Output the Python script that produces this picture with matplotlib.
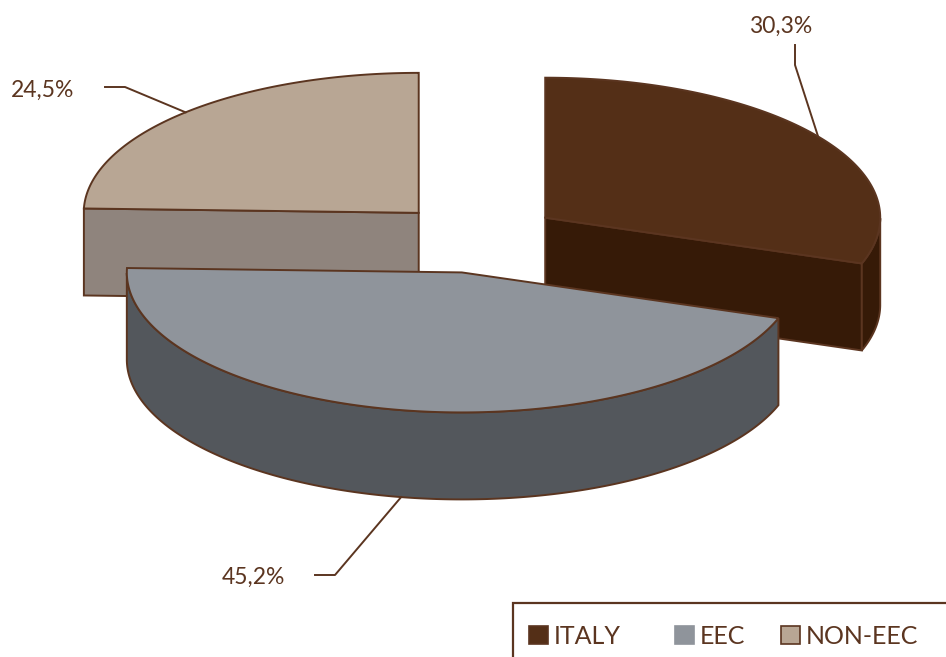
import numpy as np
import matplotlib.pyplot as plt
from matplotlib.patches import Polygon, Rectangle

plt.rcParams['font.family'] = ['Lato', 'DejaVu Sans']

# Data
categories = ['ITALY', 'EEC', 'NON-EEC']
shares = [30.3, 45.2, 24.5]
labels = ['30,3%', '45,2%', '24,5%']

# Colours: top face / side face
top_colors = ['#542f17', '#8f949b', '#b8a694']
side_colors = ['#361a07', '#53575c', '#8f847d']
edge_col = '#5b3520'
text_col = '#5b3520'

# Pie geometry (pixel space)
CX, CY = 477, 238
RX, RY = 335, 140
DEPTH = 87
EXPLODE = 0.25

# label layout: text centre, elbow start, elbow end
label_pos = [(781, 26), (253, 577), (43, 90)]
leader_a = [(795, 45), (315, 575), (105, 87)]
leader_b = [(795, 65), (335, 575), (125, 87)]


def pt(cx, cy, th, z=0.0):
    return cx + RX * np.cos(th), cy - RY * np.sin(th) + z


fig = plt.figure(figsize=(9.46, 6.57), dpi=100)
ax = fig.add_axes([0, 0, 1, 1])
ax.set_xlim(0, 946)
ax.set_ylim(657, 0)
ax.axis('off')

# build slices clockwise from 12 o'clock
slices = []
start = 90.0
for i, v in enumerate(shares):
    span = v / sum(shares) * 360
    th2 = np.radians(start)
    th1 = np.radians(start - span)
    mid = (th1 + th2) / 2
    cx = CX + EXPLODE * RX * np.cos(mid)
    cy = CY - EXPLODE * RY * np.sin(mid)
    slices.append(dict(i=i, th1=th1, th2=th2, mid=mid, cx=cx, cy=cy))
    start -= span

lw = 1.4
for s in sorted(slices, key=lambda d: d['cy']):
    i, th1, th2, cx, cy = s['i'], s['th1'], s['th2'], s['cx'], s['cy']
    # radial cut faces
    for th, vis in ((th1, np.cos(th1) > 1e-6), (th2, np.cos(th2) < -1e-6)):
        if vis:
            px, py = pt(cx, cy, th)
            poly = [(cx, cy), (px, py), (px, py + DEPTH), (cx, cy + DEPTH)]
            ax.add_patch(Polygon(poly, closed=True, fc=side_colors[i],
                                 ec=edge_col, lw=lw, zorder=2))
    # outer wall (front half only)
    ths = np.linspace(th1, th2, 400)
    front = np.sin(ths) <= 0
    runs = []
    cur = []
    for t, f in zip(ths, front):
        if f:
            cur.append(t)
        elif cur:
            runs.append(cur)
            cur = []
    if cur:
        runs.append(cur)
    for run in runs:
        if len(run) < 2:
            continue
        run = np.array(run)
        xs, ys = pt(cx, cy, run)
        poly = list(zip(xs, ys)) + list(zip(xs[::-1], ys[::-1] + DEPTH))
        ax.add_patch(Polygon(poly, closed=True, fc=side_colors[i],
                             ec=edge_col, lw=lw, zorder=2))
    # top face
    xs, ys = pt(cx, cy, ths)
    poly = [(cx, cy)] + list(zip(xs, ys))
    ax.add_patch(Polygon(poly, closed=True, fc=top_colors[i],
                         ec=edge_col, lw=lw, zorder=2))

# leaders and labels
for s in slices:
    i, mid = s['i'], s['mid']
    z = DEPTH if np.sin(mid) < 0 else 0
    anchor = pt(s['cx'], s['cy'], mid, z)
    lx = [leader_a[i][0], leader_b[i][0], anchor[0]]
    ly = [leader_a[i][1], leader_b[i][1], anchor[1]]
    ax.plot(lx, ly, color=edge_col, lw=1.4, zorder=3)
    ax.text(label_pos[i][0], label_pos[i][1], labels[i], ha='center',
            va='center', fontsize=16.5, color=text_col, zorder=4)

# legend box
ax.add_patch(Rectangle((513, 603), 460, 80, fc='white', ec=edge_col,
                       lw=1.6, zorder=3, clip_on=False))
leg_x = [529, 675, 781]
for i, name in enumerate(categories):
    ec = top_colors[i] if i == 1 else edge_col
    ax.add_patch(Rectangle((leg_x[i], 626), 19, 18, fc=top_colors[i],
                           ec=ec, lw=1.2, zorder=4))
    ax.text(leg_x[i] + 25, 636, name, ha='left', va='center',
            fontsize=18, color=text_col, zorder=4)

fig.savefig('out.png', dpi=100)
